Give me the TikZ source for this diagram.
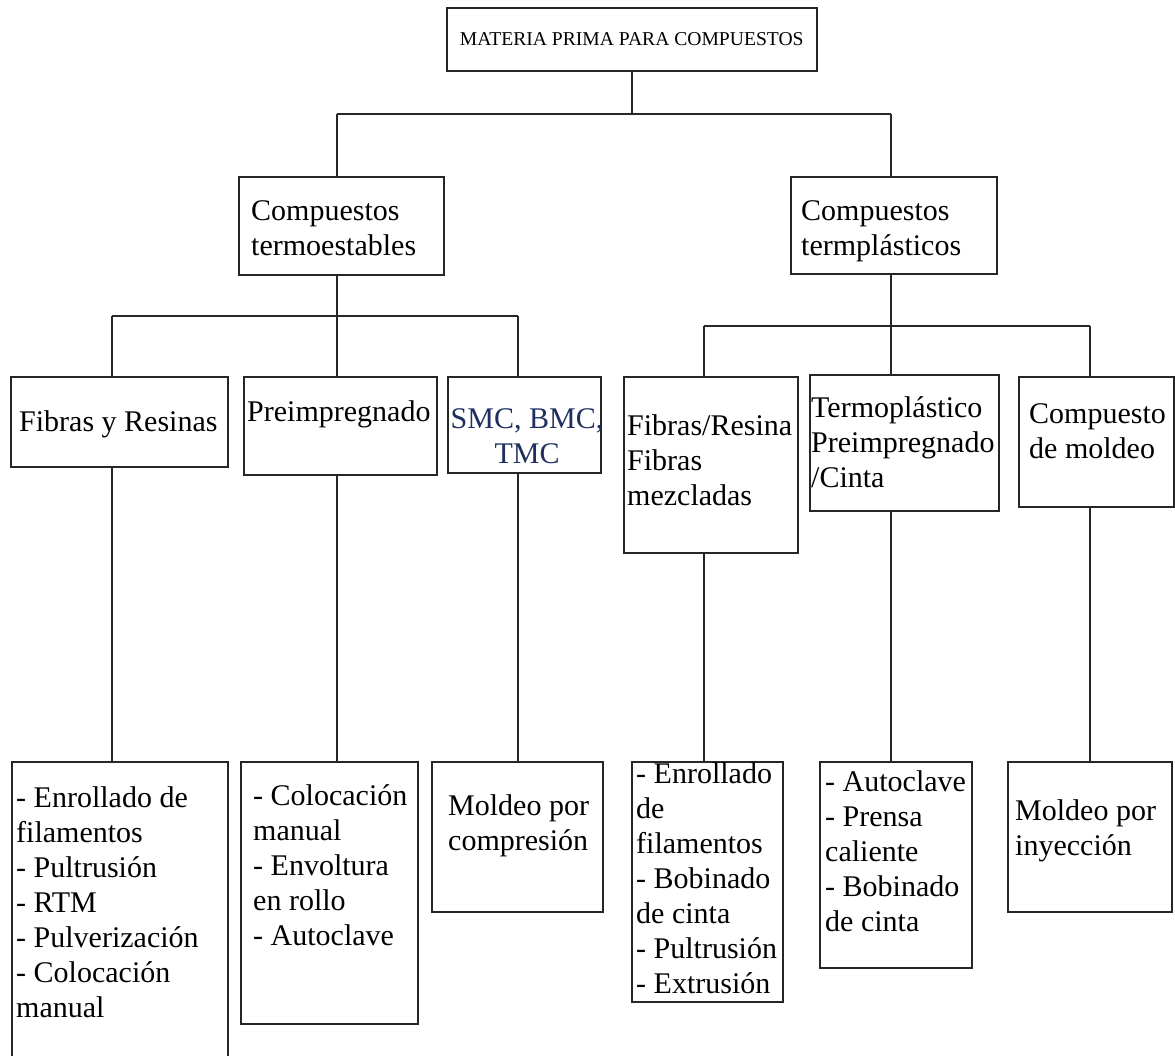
\documentclass[tikz,border=0pt]{standalone}
\usepackage{fontspec}
\setmainfont{Liberation Serif}
\usetikzlibrary{calc}
\definecolor{navytext}{HTML}{1F2F5F}
\tikzset{
  box/.style={draw=black!85, line width=1.6pt, inner sep=0pt, anchor=north west},
  link/.style={draw=black!85, line width=1.6pt},
  txt/.style={inner sep=0pt, anchor=base west, font=\fontsize{30}{35}\selectfont},
}
% box macro: name, x, y (top left), width, height
\newcommand{\mybox}[5]{\node[box, minimum width=#4pt, minimum height=#5pt] (#1) at (#2,#3) {};}
\newcommand{\rows}[1]{\begin{tabular}[t]{@{}l@{}}#1\end{tabular}}
\begin{document}
\begin{tikzpicture}[x=1pt,y=-1pt]
\useasboundingbox (0,0) rectangle (1175,1055);
\fill[white] (0,0) rectangle (1175,1055);

% root
\node[box, minimum width=370pt, minimum height=63pt, font=\fontsize{19.6}{22}\selectfont,
      anchor=north west] (root) at (446,7) {MATERIA PRIMA PARA COMPUESTOS};

% second level
\mybox{tset}{238}{176}{205}{98}
\mybox{tpla}{790}{176}{206}{97}
\node[txt] (tset-t) at (251,220) {\rows{Compuestos\\termoestables}};
\node[txt] (tpla-t) at (801,220) {\rows{Compuestos\\termplásticos}};

% third level
\mybox{fyr}{10}{376}{217}{90}
\mybox{pre}{243}{376}{193}{98}
\mybox{smc}{447}{376}{153}{96}
\mybox{frf}{623}{376}{174}{176}
\mybox{tpc}{809}{374}{189}{136}
\mybox{cdm}{1018}{376}{155}{130}
\node[txt] (fyr-t) at (19,431) {Fibras y Resinas};
\node[txt] (pre-t) at (247,421) {Preimpregnado};
\node[txt, anchor=base, text=navytext] (smc-t) at (527,428) {\begin{tabular}[t]{@{}c@{}}SMC, BMC,\\TMC\end{tabular}};
\node[txt] (frf-t) at (627,435) {\rows{Fibras/Resina\\Fibras\\mezcladas}};
\node[txt] (tpc-t) at (811,417) {\rows{Termoplástico\\Preimpregnado\\/Cinta}};
\node[txt] (cdm-t) at (1029,423) {\rows{Compuesto\\de moldeo}};

% fourth level
\mybox{b1}{11}{761}{216}{320}
\mybox{b2}{240}{761}{177}{262}
\mybox{b3}{431}{761}{171}{150}
\mybox{b4}{631}{761}{151}{240}
\mybox{b5}{819}{761}{152}{206}
\mybox{b6}{1007}{761}{164}{150}
\node[txt] (b1-t) at (16,807) {\rows{- Enrollado de\\filamentos\\- Pultrusión\\- RTM\\- Pulverización\\- Colocación\\manual}};
\node[txt] (b2-t) at (253,805) {\rows{- Colocación\\manual\\- Envoltura\\en rollo\\- Autoclave}};
\node[txt] (b3-t) at (448,815) {\rows{Moldeo por\\compresión}};
\node[txt] (b4-t) at (636,783) {\rows{- Enrollado\\de\\filamentos\\- Bobinado\\de cinta\\- Pultrusión\\- Extrusión}};
\node[txt] (b5-t) at (825,791) {\rows{- Autoclave\\- Prensa\\caliente\\- Bobinado\\de cinta}};
\node[txt] (b6-t) at (1015,820) {\rows{Moldeo por\\inyección}};

% junction points
\coordinate (ja) at (337,114);
\coordinate (jb) at (891,114);
\coordinate (l1) at (112,316);
\coordinate (l2) at (337,316);
\coordinate (l3) at (518,316);
\coordinate (r1) at (704,326);
\coordinate (r2) at (891,326);
\coordinate (r3) at (1090,326);

% root to second level
\draw[link] (root.south) -- (root.south |- ja);
\draw[link] (ja) -- (jb);
\draw[link] (ja) -- (ja |- tset.north);
\draw[link] (jb) -- (jb |- tpla.north);

% thermosets branch
\draw[link] (l2 |- tset.south) -- (l2);
\draw[link] (l1) -- (l3);
\draw[link] (l1) -- (l1 |- fyr.north);
\draw[link] (l2) -- (l2 |- pre.north);
\draw[link] (l3) -- (l3 |- smc.north);
\draw[link] (l1 |- fyr.south) -- (l1 |- b1.north);
\draw[link] (l2 |- pre.south) -- (l2 |- b2.north);
\draw[link] (l3 |- smc.south) -- (l3 |- b3.north);

% thermoplastics branch
\draw[link] (r2 |- tpla.south) -- (r2);
\draw[link] (r1) -- (r3);
\draw[link] (r1) -- (r1 |- frf.north);
\draw[link] (r2) -- (r2 |- tpc.north);
\draw[link] (r3) -- (r3 |- cdm.north);
\draw[link] (r1 |- frf.south) -- (r1 |- b4.north);
\draw[link] (r2 |- tpc.south) -- (r2 |- b5.north);
\draw[link] (r3 |- cdm.south) -- (r3 |- b6.north);
\end{tikzpicture}
\end{document}
